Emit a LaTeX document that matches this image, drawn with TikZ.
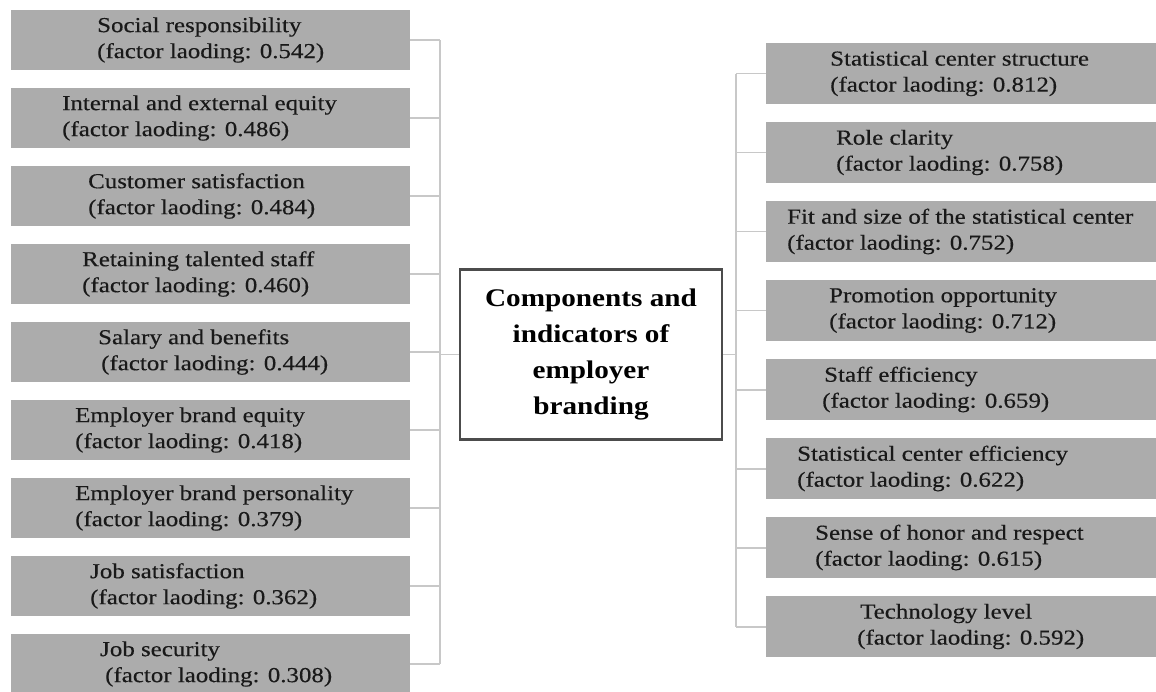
\documentclass[tikz,border=0pt]{standalone}
\usepackage{fontspec}
\setmainfont[FakeStretch=1.15]{Liberation Serif}
\newfontfamily\boxfont[FakeStretch=1.17,FakeBold=0.4]{Liberation Serif}
\begin{document}
\begin{tikzpicture}[x=1pt,y=-1pt,
  gbox/.style={draw=none,fill=boxgray,minimum height=#1,inner sep=0pt,anchor=north west},
  gbox/.default=60pt,
  gtext/.style={anchor=west,align=left,inner sep=0pt,font=\boxfont\fontsize{21.3}{26}\selectfont,text=black!90},
  conn/.style={draw=linegray,line width=1.6pt},
  center box/.style={draw=black!70,line width=2.2pt,fill=white,minimum width=262pt,minimum height=170pt,inner sep=0pt,align=center,font=\fontsize{25.4}{36}\selectfont\bfseries,text=black}]
\definecolor{boxgray}{RGB}{172,172,172}
\definecolor{linegray}{RGB}{200,200,200}
\useasboundingbox (0,0) rectangle (1156,692);
\clip (0,0) rectangle (1156,692);

% left boxes
\foreach \i in {1,...,9}{
  \node[gbox,minimum width=399pt] (L\i) at (11,{10+78*(\i-1)}) {};
}
% right boxes
\foreach \j in {1,...,8}{
  \node[gbox=61pt,minimum width=394pt] (R\j) at (766,{43+79*(\j-1)}) {};
}

% left texts
\node[gtext] (Lt1) at (97,40)  {Social responsibility\\(factor laoding: 0.542)};
\node[gtext] (Lt2) at (62,118) {Internal and external equity\\(factor laoding: 0.486)};
\node[gtext] (Lt3) at (88,196) {Customer satisfaction\\(factor laoding: 0.484)};
\node[gtext] (Lt4) at (82,274) {Retaining talented staff\\(factor laoding: 0.460)};
\node[gtext] (Lt5) at (98,352) {Salary and benefits\\\hspace*{3pt}(factor laoding: 0.444)};
\node[gtext] (Lt6) at (75,430) {Employer brand equity\\(factor laoding: 0.418)};
\node[gtext] (Lt7) at (75,508) {Employer brand personality\\(factor laoding: 0.379)};
\node[gtext] (Lt8) at (90,586) {Job satisfaction\\(factor laoding: 0.362)};
\node[gtext] (Lt9) at (100,664) {Job security\\\hspace*{5pt}(factor laoding: 0.308)};

% right texts
\node[gtext] (Rt1) at (830,73.5)  {Statistical center structure\\(factor laoding: 0.812)};
\node[gtext] (Rt2) at (836,152.5) {Role clarity\\(factor laoding: 0.758)};
\node[gtext] (Rt3) at (787,231.5) {Fit and size of the statistical center\\(factor laoding: 0.752)};
\node[gtext] (Rt4) at (829,310.5) {Promotion opportunity\\(factor laoding: 0.712)};
\node[gtext] (Rt5) at (822,389.5) {\hspace*{2pt}Staff efficiency\\(factor laoding: 0.659)};
\node[gtext] (Rt6) at (797,468.5) {Statistical center efficiency\\(factor laoding: 0.622)};
\node[gtext] (Rt7) at (815,547.5) {Sense of honor and respect\\(factor laoding: 0.615)};
\node[gtext] (Rt8) at (857,626.5) {\hspace*{3pt}Technology level\\(factor laoding: 0.592)};

% center
\node[center box] (C) at (591,354.5) {Components and\\indicators of\\employer\\branding};

\coordinate (ltrunk) at (440,0);
\coordinate (rtrunk) at (736,0);

% left connectors
\foreach \i in {1,...,9}{
  \draw[conn] (L\i.east) -- (L\i.east -| ltrunk);
}
\draw[conn] (L1.east -| ltrunk) -- (L9.east -| ltrunk);
\draw[conn] (ltrunk |- C.west) -- (C.west);

% right connectors
\foreach \j in {1,...,8}{
  \draw[conn] (R\j.west) -- (R\j.west -| rtrunk);
}
\draw[conn] (R1.west -| rtrunk) -- (R8.west -| rtrunk);
\draw[conn] (C.east) -- (C.east -| rtrunk);
\end{tikzpicture}
\end{document}
